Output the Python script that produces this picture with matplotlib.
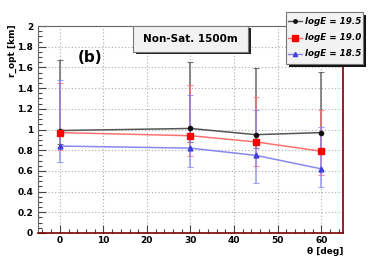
import matplotlib
matplotlib.use("Agg")
import matplotlib.pyplot as plt
from matplotlib.ticker import MultipleLocator
from matplotlib.patches import Rectangle
from matplotlib.lines import Line2D

theta = [0, 30, 45, 60]
labels = ["logE = 19.5", "logE = 19.0", "logE = 18.5"]
r_195 = [0.99, 1.01, 0.95, 0.97]
hi_195 = [1.67, 1.65, 1.59, 1.56]
lo_195 = [0.86, 0.88, 0.82, 0.82]
r_190 = [0.97, 0.94, 0.88, 0.79]
hi_190 = [1.45, 1.43, 1.31, 1.19]
lo_190 = [0.80, 0.74, 0.65, 0.56]
r_185 = [0.84, 0.82, 0.75, 0.62]
hi_185 = [1.48, 1.33, 1.19, 1.02]
lo_185 = [0.69, 0.64, 0.48, 0.44]

fig = plt.figure(figsize=(3.82, 2.59), dpi=100)
ax = fig.add_axes([38/382, 1-233/259, (343-38)/382, (233-26)/259])
ax.set_xlim(-5, 65)
ax.set_ylim(0, 2)

series = [
    (r_195, hi_195, lo_195, "#111111", "#555555", "o", 3),
    (r_190, hi_190, lo_190, "#ff0000", "#ff7070", "s", 4.5),
    (r_185, hi_185, lo_185, "#4040e0", "#8888f0", "^", 3.5),
]
for (y, hi, lo, mc, lc, mk, ms), lab in zip(series, labels):
    yerr = [[v - l for v, l in zip(y, lo)], [h - v for v, h in zip(y, hi)]]
    ax.errorbar(theta, y, yerr=yerr, fmt="none", ecolor=lc, elinewidth=1.2,
                capsize=2, capthick=0.8, alpha=0.8, zorder=3)
    ax.plot(theta, y, color=lc, lw=1.1, zorder=4)
    ax.plot(theta, y, ls="none", marker=mk, color=mc, ms=ms, zorder=5)

ax.xaxis.set_major_locator(MultipleLocator(10))
ax.xaxis.set_minor_locator(MultipleLocator(2))
ax.yaxis.set_minor_locator(MultipleLocator(0.05))
ax.set_yticks([0, 0.2, 0.4, 0.6, 0.8, 1, 1.2, 1.4, 1.6, 1.8, 2])
ax.set_yticklabels(["0", "0.2", "0.4", "0.6", "0.8", "1", "1.2", "1.4", "1.6", "1.8", "2"])
ax.tick_params(which="both", direction="in", labelsize=6.5, width=0.8, color="#444444")
ax.tick_params(which="major", length=6)
ax.tick_params(which="minor", length=3)
ax.tick_params(axis="x", pad=2.5)
for t in ax.get_xticklabels() + ax.get_yticklabels():
    t.set_fontweight("bold")
ax.grid(True, which="major", ls=(0, (1, 2)), color="#aaaaaa", lw=0.8)
for s in ["left", "top"]:
    ax.spines[s].set_color("#666666")
for s in ["right", "bottom"]:
    ax.spines[s].set_color("#7a0000")
    ax.spines[s].set_linewidth(1.2)

fig.text(12/382, 1-24/259, "r_opt [km]", rotation=90, ha="center", va="top",
         fontsize=6.5, fontweight="bold")
fig.text(343/382, 1-251.5/259, "\u03b8 [deg]", ha="right", va="center",
         fontsize=6.5, fontweight="bold")

ax.text(0.13, 0.85, "(b)", transform=ax.transAxes, fontsize=11, fontweight="bold",
        ha="left", va="center", zorder=6)

# title box
fig.patches.append(Rectangle((136/382, 1-54/259), 115/382, 26/259, transform=fig.transFigure,
                             facecolor="#222222", edgecolor="none", zorder=6))
fig.patches.append(Rectangle((133/382, 1-52/259), 115/382, 26/259, transform=fig.transFigure,
                             facecolor="#f2f2f2", edgecolor="#777777", lw=0.8, zorder=7))
fig.text(190.5/382, 1-39/259, "Non-Sat. 1500m", ha="center", va="center", fontsize=7.5,
         fontweight="bold", zorder=8)

# legend box
lx0, ly0, lw_, lh_ = 286, 12, 77, 52
fig.patches.append(Rectangle(((lx0+3)/382, 1-(ly0+lh_+3)/259), lw_/382, lh_/259,
                             transform=fig.transFigure, facecolor="#111111", edgecolor="none", zorder=6))
fig.patches.append(Rectangle((lx0/382, 1-(ly0+lh_)/259), lw_/382, lh_/259,
                             transform=fig.transFigure, facecolor="#f2f2f2", edgecolor="#777777",
                             lw=0.8, zorder=7))
for i, ((y, hi, lo, mc, lc, mk, ms), lab) in enumerate(zip(series, labels)):
    yy = 1 - (21 + i*16.5)/259
    fig.lines.append(Line2D([288/382, 302/382], [yy, yy], color=lc, lw=1.0,
                            transform=fig.transFigure, zorder=8))
    fig.lines.append(Line2D([295/382], [yy], marker=mk, color=mc, ms=ms-0.5,
                            transform=fig.transFigure, zorder=9))
    fig.text(305/382, yy, lab, ha="left", va="center", fontsize=6.3, fontweight="bold",
             fontstyle="italic", zorder=9)

fig.savefig("out.png", dpi=100)
